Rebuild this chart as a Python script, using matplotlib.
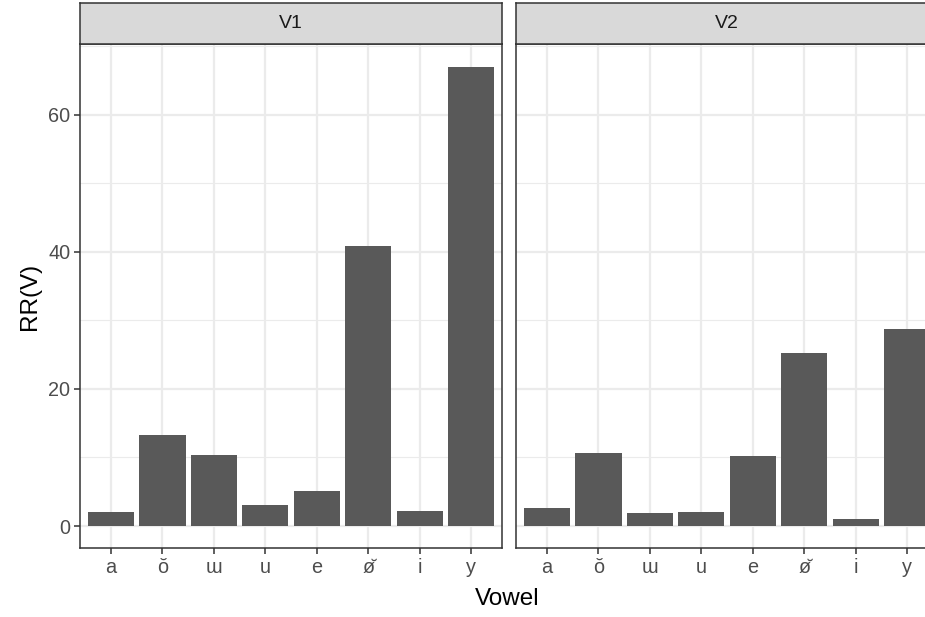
import matplotlib
matplotlib.use("Agg")
import matplotlib.pyplot as plt
from matplotlib.ticker import MultipleLocator

vowels = ["a", "ŏ", "ɯ", "u", "e", "ø\u0306", "i", "y"]
panels = ["V1", "V2"]
v1_values = [2.0, 13.3, 10.3, 3.0, 5.1, 40.9, 2.2, 66.9]
v2_values = [2.7, 10.6, 1.9, 2.0, 10.2, 25.2, 1.0, 28.7]
yticks = [0, 20, 40, 60]
series = [v1_values, v2_values]

W, H = 925, 617
plt.rcParams['font.family'] = ['Liberation Sans', 'DejaVu Sans']
fig = plt.figure(figsize=(W / 100, H / 100), dpi=100)

def fx(px):
    return px / W

def fy(py):
    return 1 - py / H

panel_lefts = [80, 516]
panel_w = 422
top_px, bot_px = 44, 548
strip_top = 3

ymin, ymax = -3.2, 70.3
for i, (name, vals) in enumerate(zip(panels, series)):
    L = panel_lefts[i]
    ax = fig.add_axes([fx(L), fy(bot_px), panel_w / W, (bot_px - top_px) / H])
    x = list(range(1, len(vowels) + 1))
    ax.bar(x, vals, width=0.9, color="#595959", zorder=3)
    ax.set_xlim(0.4, len(vowels) + 0.6)
    ax.set_ylim(ymin, ymax)
    ax.set_xticks(x)
    ax.set_xticklabels(vowels)
    ax.set_yticks(yticks)
    ax.yaxis.set_minor_locator(MultipleLocator(10))
    ax.grid(True, which="major", color="#EBEBEB", linewidth=1.6, zorder=0)
    ax.grid(True, which="minor", axis="y", color="#EBEBEB", linewidth=0.8, zorder=0)
    ax.set_axisbelow(True)
    ax.tick_params(axis="both", which="major", length=4.5, width=1.1, color="#333333",
                   labelsize=14.3, labelcolor="#4D4D4D", pad=2.5)
    ax.tick_params(axis="both", which="minor", length=0)
    if i == 0:
        ax.set_yticklabels([str(t) for t in yticks])
        ax.set_ylabel("RR(V)", fontsize=17.5, color="black", labelpad=5)
    else:
        ax.tick_params(axis="y", which="both", left=False, labelleft=False)
    for s in ax.spines.values():
        s.set_color("#333333")
        s.set_linewidth(1.1)
    # strip
    sax = fig.add_axes([fx(L), fy(top_px), panel_w / W, (top_px - strip_top) / H])
    sax.set_xticks([])
    sax.set_yticks([])
    sax.set_facecolor("#D9D9D9")
    for s in sax.spines.values():
        s.set_color("#333333")
        s.set_linewidth(1.1)
    sax.text(0.5, 0.5, name, ha="center", va="center", fontsize=14,
             color="#1A1A1A", transform=sax.transAxes)

fig.text(fx(507), fy(599), "Vowel", ha="center", va="center", fontsize=17.5)

fig.savefig("out.png", dpi=100)
